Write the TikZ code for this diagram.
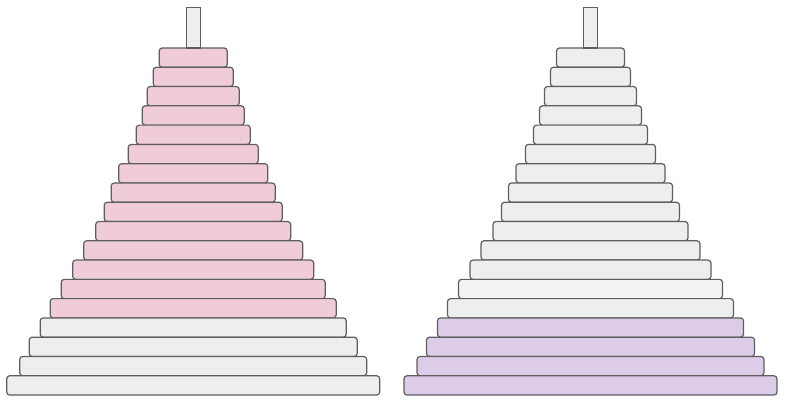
\documentclass[tikz,border=0pt]{standalone}
\usetikzlibrary{positioning}
\definecolor{diskpink}{HTML}{F0CCDA}
\definecolor{diskpurple}{HTML}{DCCCE8}
\definecolor{diskgray}{HTML}{EEEEEE}
\definecolor{disklight}{HTML}{F3F3F3}
\definecolor{edgegray}{HTML}{5E5E5E}
\tikzset{
  disk/.style={
    draw=edgegray, line width=1.2pt, rounded corners=3pt,
    fill=diskgray, anchor=north, minimum height=19.28pt,
    inner sep=0pt, outer sep=0pt
  },
  pole/.style={
    draw=edgegray, line width=1.2pt, fill=diskgray,
    minimum width=14pt, minimum height=40.5pt,
    inner sep=0pt, outer sep=0pt
  },
}

\begin{document}
\begin{tikzpicture}[x=1pt, y=-1pt]
    \useasboundingbox (0,0) rectangle (788,402);

    % Left tower: top 14 disks highlighted
    \foreach \w [count=\i] in {68,80,92,102,114,130,149,164,178,195,219,241,264,286,306,328,347,373} {
      \pgfmathsetmacro\ytop{48+(\i-1)*19.28}
      \ifnum\i<15 \def\lfill{diskpink}\else\def\lfill{diskgray}\fi
      \node[disk, fill=\lfill, minimum width=\w pt] (left-disk-\i) at (193.2,\ytop) {};
    }
    \node[pole, above=0pt of left-disk-1] (left-pole) {};

    % Right tower: bottom 4 disks highlighted
    \foreach \w [count=\i] in {68,80,92,102,114,130,149,164,178,195,219,241,264,286,306,328,347,373} {
      \pgfmathsetmacro\ytop{48+(\i-1)*19.28}
      \ifnum\i<15 \def\rfill{diskgray}\else\def\rfill{diskpurple}\fi
      \ifnum\i=13 \def\rfill{disklight}\fi
      \node[disk, fill=\rfill, minimum width=\w pt] (right-disk-\i) at (590.5,\ytop) {};
    }
    \node[pole, above=0pt of right-disk-1] (right-pole) {};

\end{tikzpicture}
\end{document}
